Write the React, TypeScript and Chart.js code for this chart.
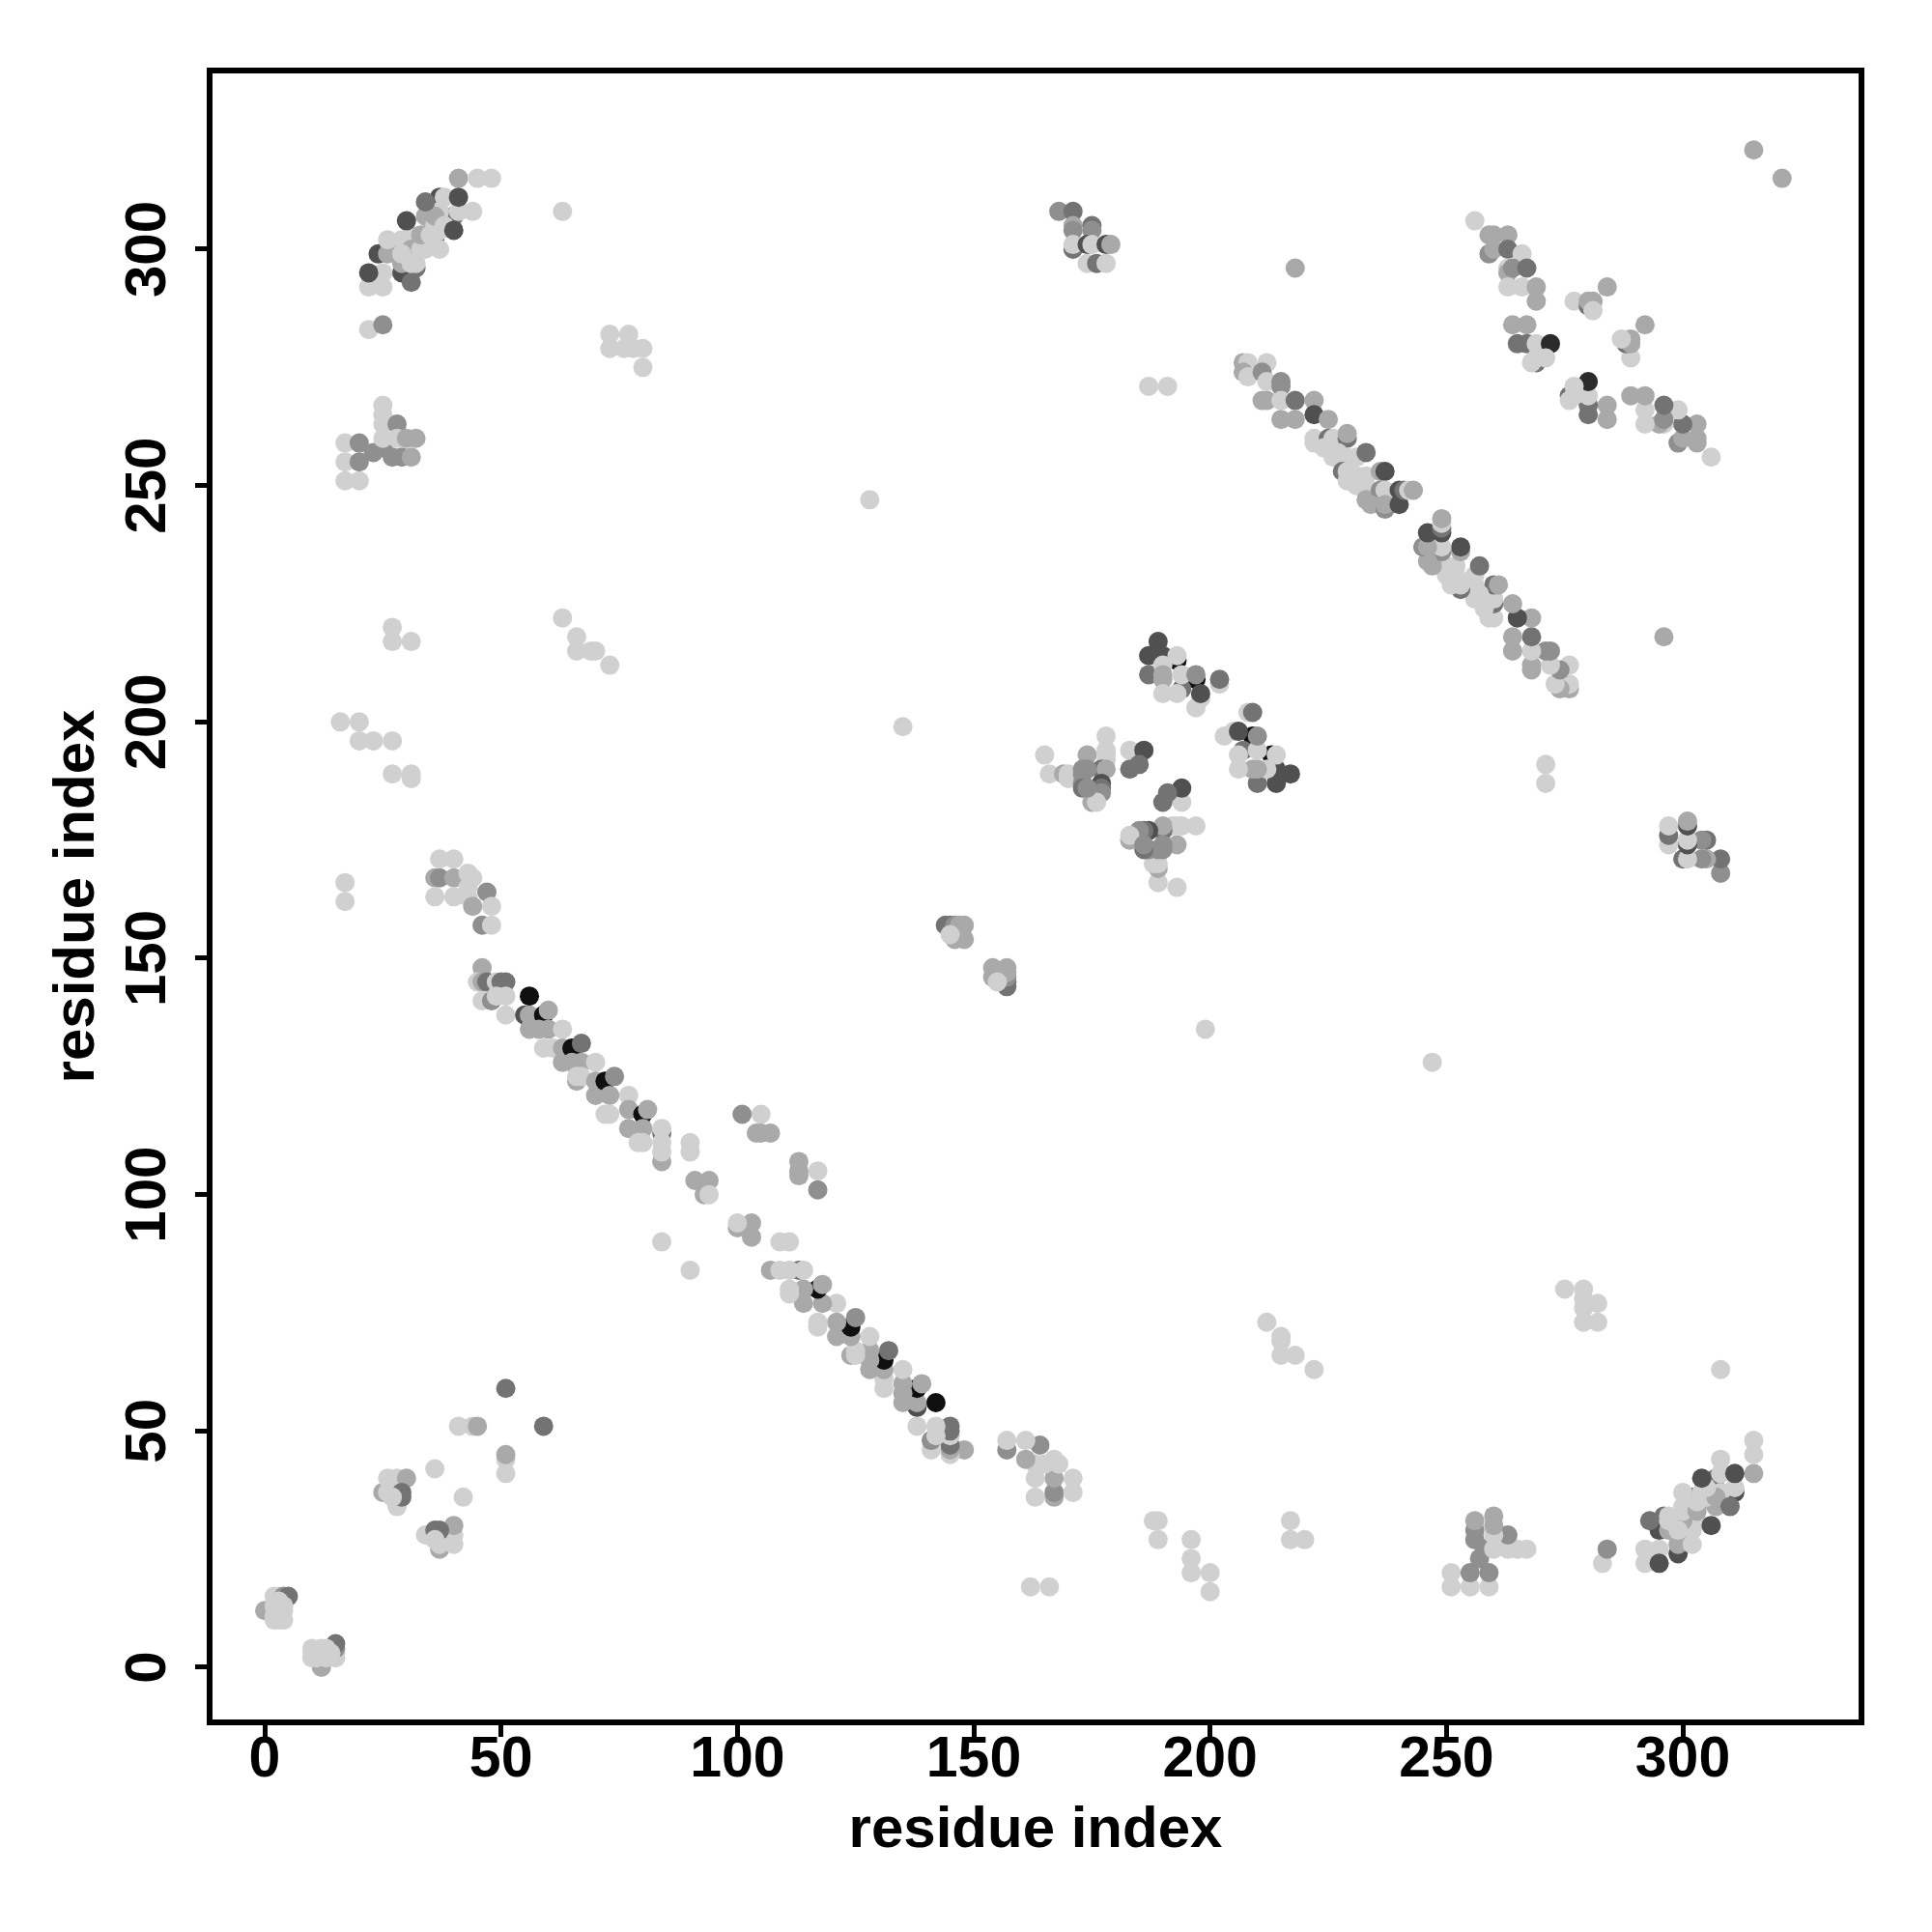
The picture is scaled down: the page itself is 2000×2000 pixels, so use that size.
import React, { useEffect, useRef } from "react";
import { Chart, registerables } from "chart.js";

Chart.register(...registerables);

type Contact = [number, number, number];

const axisTitle = "residue index";
const tickValues = [0, 50, 100, 150, 200, 250, 300];
const shades = ["#d0d0d0", "#a9a9a9", "#8f8f8f", "#737373", "#505050", "#0f0f0f", "#2b2b2b"];

// Each row: residue i, residue j (i < j), shade index. The map is symmetric.
const termini: Contact[] = [
  [0,12,1],[2,15,0],[3,15,0],[4,15,2],[5,15,3],[2,10,0],[2,11,0],[2,13,0],[3,10,0],[3,12,0],[3,14,0],[4,10,0],[4,12,0],[4,13,0],[3,11,0],
];
const localContacts: Contact[] = [
  [25,37,1],[26,37,0],[26,40,0],[28,40,0],[30,40,1],[28,34,0],[29,36,3],[29,37,3],[27,36,0],[36,42,0],
  [41,51,0],[44,51,0],[45,51,1],[51,59,3],
];
const sparseLong: Contact[] = [
  [17,162,0],[17,166,0],[16,200,0],[20,200,0],[20,196,0],[23,196,0],[27,196,0],[27,189,0],[31,189,0],[31,188,0],
  [27,217,0],[27,220,0],[31,217,0],[22,283,0],[25,284,2],[63,222,0],[66,218,0],[66,215,0],[69,215,0],[70,215,0],[73,212,0],
  [63,308,0],[73,282,0],[73,279,0],[77,282,0],[76,279,0],[78,279,0],[80,279,0],[80,275,0],[84,90,0],[135,199,0],[128,247,0],
  [218,296,1],[187,271,0],[191,271,0],[315,321,1],
];
const patchA: Contact[] = [
  [25,258,2],[17,259,0],[17,255,0],[17,251,0],[20,251,0],[20,259,2],[20,255,2],[23,257,2],[25,267,0],[25,265,0],[25,263,0],[25,260,0],
  [28,263,2],[28,260,0],[27,256,2],[29,256,2],[31,256,1],[30,260,1],[32,260,1],
];
const arcTop: Contact[] = [
  [41,315,1],[45,315,0],[48,315,0],[37,311,4],[38,311,0],[40,307,3],[36,302,3],[29,295,4],[32,296,3],[32,297,0],[31,293,3],
  [24,299,4],[26,299,1],[28,299,1],[26,302,0],[29,302,0],[31,303,0],[34,303,1],[34,307,1],[37,308,0],[41,308,0],[44,308,0],[37,304,0],
  [31,300,1],[34,300,0],[37,300,0],[25,295,0],[29,297,1],[22,292,0],[25,292,0],[33,300,0],[36,305,0],[36,307,1],[38,305,0],[33,303,1],
  [35,303,0],[31,297,0],[29,299,0],[34,310,3],[41,311,4],[40,304,4],[30,306,4],[22,295,4],
];
const patchB: Contact[] = [
  [36,167,1],[37,167,2],[40,167,1],[37,171,0],[40,171,0],[43,168,0],[44,167,0],[36,163,0],[40,163,0],[43,163,0],[44,161,1],
  [47,164,2],[48,161,0],[46,157,2],[48,157,0],[43,165,0],
];
const antiHelixLower: Contact[] = [
  [46,148,1],[45,145,0],[46,145,1],[47,145,3],[49,145,0],[50,145,3],[51,145,3],[46,141,0],[48,141,2],[49,142,0],[51,142,0],
  [56,142,5],[51,138,0],[55,138,4],[56,138,1],[56,135,1],[59,138,5],[60,139,1],[58,135,1],[60,135,1],[63,135,0],[59,131,0],[61,131,0],
  [63,131,1],[63,128,1],[65,131,5],[67,132,3],[65,128,1],[67,128,1],[70,128,0],[66,124,1],[66,125,0],[67,125,0],[70,124,1],[70,121,1],
  [72,124,5],[74,125,2],[73,121,1],[72,117,0],[73,117,0],[77,121,0],[77,118,1],[77,114,1],[80,117,5],[81,118,1],[80,114,1],[79,111,0],
  [80,111,0],[84,113,3],[84,107,1],[84,109,0],[84,111,0],[84,114,0],[90,111,0],[90,109,0],[91,103,1],[94,103,1],[93,100,1],[94,100,0],
  [101,117,2],[105,117,0],[104,113,1],[105,113,1],[107,113,1],
];
const nearDiagonal: Contact[] = [
  [144,157,3],[145,157,3],[146,157,2],[147,157,1],[148,157,1],[146,154,1],[148,154,1],[145,155,0],
];
const patchC: Contact[] = [
  [168,308,2],[171,308,3],[171,305,1],[171,304,2],[175,305,3],[175,304,2],[171,300,3],[171,301,0],[174,301,4],[175,301,0],
  [178,301,4],[179,301,1],[174,297,0],[176,297,3],[178,297,0],
];
const patchD: Contact[] = [
  [165,193,0],[166,189,0],[169,189,1],[170,188,0],[170,189,0],[174,193,1],[173,190,2],[173,189,2],[173,187,2],[173,186,3],
  [178,197,0],[178,194,0],[178,193,0],[178,192,0],[177,190,3],[178,190,1],[177,187,4],[177,186,3],[177,185,2],[175,183,1],[176,183,0],
  [183,194,0],[186,194,4],[183,190,3],[185,191,3],[174,190,2],[174,186,2],
];
const patchE: Contact[] = [
  [189,217,4],[187,214,4],[189,214,4],[190,214,4],[193,213,5],[193,214,0],[187,210,3],[190,212,0],[190,210,1],[190,209,1],
  [197,209,5],[194,207,3],[190,206,0],[193,206,0],[194,210,0],[197,210,2],[197,203,0],[198,205,0],[198,206,4],[202,208,0],[202,209,3],
];
const antiHelixUpper: Contact[] = [
  [207,276,1],[208,276,0],[212,276,0],[207,274,1],[208,273,0],[211,274,2],[212,272,0],[215,271,2],[215,272,2],[211,268,1],[212,268,1],
  [215,268,0],[218,268,3],[215,264,1],[218,264,1],[222,268,1],[222,265,4],[225,264,1],[222,260,0],[222,259,0],[225,260,3],[226,260,0],
  [229,260,3],[229,261,1],[224,258,0],[226,256,0],[229,256,0],[227,257,0],[231,256,0],[233,257,3],[228,253,3],[229,253,0],[231,252,0],[229,251,0],
  [231,250,0],[233,252,0],[233,250,0],[233,247,1],[236,253,1],[237,253,4],
  [236,249,2],[237,249,0],[234,246,1],[237,245,2],[237,246,1],[240,246,4],[240,249,4],[241,249,3],[242,249,0],[243,249,1],
];
const patchF: Contact[] = [
  [256,306,0],[259,303,1],[260,303,1],[263,303,1],[259,299,2],[260,300,1],[263,300,3],[266,299,0],[263,296,0],[263,295,1],[264,296,2],[267,296,3],
  [263,292,0],[266,292,0],[269,292,1],[269,289,1],[264,284,1],[267,284,1],[265,280,3],[267,280,3],[269,280,0],[272,280,6],[269,276,3],
  [268,276,0],[269,277,0],[271,277,0],[277,289,0],[280,288,3],[281,289,1],[280,289,1],[281,287,0],[284,292,1],
];

const contactGroups = [
  termini, localContacts, sparseLong, patchA, arcTop, patchB, antiHelixLower, nearDiagonal,
  patchC, patchD, patchE, antiHelixUpper, patchF,
];

const fontFamily = '"Liberation Sans", Arial, sans-serif';

const frameAndYLabels = {
  id: "frameAndYLabels",
  afterDraw(chart: any) {
    const { ctx, chartArea: a, scales } = chart;
    ctx.save();
    ctx.strokeStyle = "#000";
    ctx.lineWidth = 6;
    ctx.strokeRect(a.left, a.top, a.right - a.left, a.bottom - a.top);
    ctx.fillStyle = "#000";
    ctx.font = `bold 60px ${fontFamily}`;
    ctx.textAlign = "center";
    ctx.textBaseline = "alphabetic";
    for (const v of tickValues) {
      ctx.save();
      ctx.translate(171, scales.y.getPixelForValue(v));
      ctx.rotate(-Math.PI / 2);
      ctx.fillText(String(v), 0, 0);
      ctx.restore();
    }
    ctx.restore();
  },
};

export default function App() {
  const ref = useRef<HTMLCanvasElement | null>(null);
  useEffect(() => {
    document.body.style.margin = "0";
    const rows = contactGroups.flat();
    const mirrored = rows.flatMap(([i, j, s]) => [
      { x: i, y: j, s },
      { x: j, y: i, s },
    ]);
    const setTicks = (axis: any) => {
      axis.ticks = tickValues.map((value) => ({ value }));
    };
    const grid = {
      drawOnChartArea: false,
      drawTicks: true,
      tickLength: 15,
      tickWidth: 5,
      tickColor: "#000",
    };
    const chart = new Chart(ref.current!, {
      type: "scatter",
      data: {
        datasets: [
          {
            data: mirrored.map((p) => ({ x: p.x, y: p.y })),
            backgroundColor: mirrored.map((p) => shades[p.s]),
            borderWidth: 0,
            pointRadius: 10,
            pointHoverRadius: 10,
          },
        ],
      },
      options: {
        responsive: false,
        animation: false,
        devicePixelRatio: 1,
        layout: { padding: { top: 73, right: 73, left: 0, bottom: 0 } },
        plugins: { legend: { display: false }, tooltip: { enabled: false } },
        scales: {
          x: {
            type: "linear",
            min: -11.65,
            max: 337.8,
            afterBuildTicks: setTicks,
            afterFit: (s: any) => { s.height = 217; },
            grid,
            border: { display: false },
            ticks: {
              autoSkip: false,
              maxRotation: 0,
              padding: -11,
              color: "#000",
              font: { family: fontFamily, size: 59, weight: "bold" },
            },
            title: {
              display: true,
              text: axisTitle,
              color: "#000",
              padding: { top: 0, bottom: 69 },
              font: { family: fontFamily, size: 60, weight: "bold" },
            },
          },
          y: {
            type: "linear",
            min: -11.65,
            max: 337.8,
            afterBuildTicks: setTicks,
            afterFit: (s: any) => { s.width = 217; },
            grid,
            border: { display: false },
            ticks: { display: false },
            title: {
              display: true,
              text: axisTitle,
              color: "#000",
              padding: { top: 44, bottom: 0 },
              font: { family: fontFamily, size: 60, weight: "bold" },
            },
          },
        },
      } as any,
      plugins: [frameAndYLabels],
    });
    return () => chart.destroy();
  }, []);
  return <canvas ref={ref} width={2000} height={2000} style={{ display: "block" }} />;
}
